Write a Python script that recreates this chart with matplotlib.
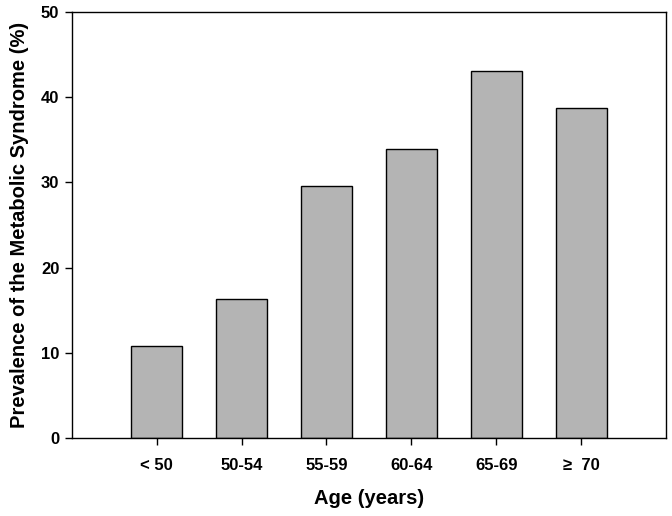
import matplotlib
matplotlib.use("Agg")
import matplotlib.pyplot as plt
import numpy as np

plt.rcParams["font.family"] = ["Liberation Sans", "DejaVu Sans"]
plt.rcParams["font.weight"] = "bold"

age_groups = ["< 50", "50-54", "55-59", "60-64", "65-69", "\u2265  70"]
prevalence = [10.8, 16.3, 29.6, 33.9, 43.1, 38.7]

fig = plt.figure(figsize=(6.72, 5.16), dpi=100)
ax = fig.add_axes([0.107, 0.151, 0.884, 0.826])

x = np.arange(len(age_groups))
ax.bar(x, prevalence, width=0.6, color="#b4b4b4", edgecolor="black", linewidth=1.0)

ax.set_xlim(-1, len(age_groups))
ax.set_ylim(0, 50)
ax.set_xticks(x)
ax.set_xticklabels(age_groups, fontsize=12, fontweight="bold")
ax.set_yticks(np.arange(0, 51, 10))
ax.set_yticklabels([str(v) for v in range(0, 51, 10)], fontsize=12, fontweight="bold")
ax.tick_params(direction="out", length=5, width=1, pad=9, axis="x")
ax.tick_params(direction="out", length=5, width=1, pad=4, axis="y")
for s in ax.spines.values():
    s.set_linewidth(1.0)

ax.set_xlabel("Age (years)", fontsize=14.5, fontweight="bold", labelpad=12)
ax.set_ylabel("Prevalence of the Metabolic Syndrome (%)", fontsize=14.5, fontweight="bold", labelpad=9)

fig.savefig("out.png", dpi=100, facecolor="white")
